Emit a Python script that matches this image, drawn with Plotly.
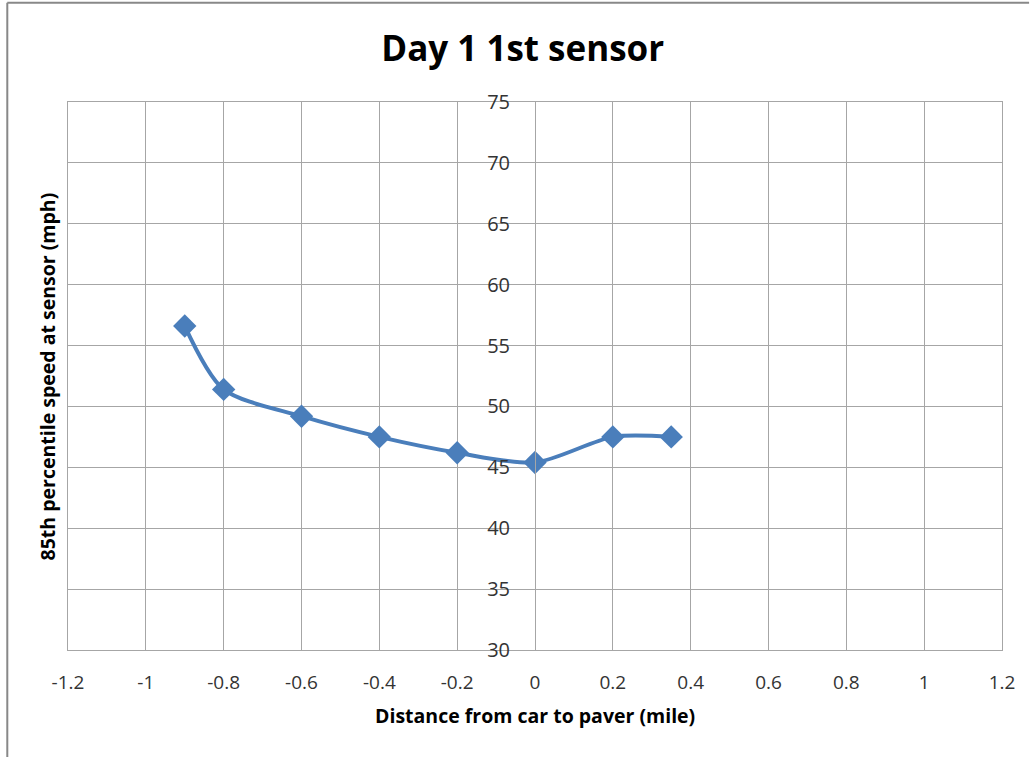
import plotly.graph_objects as go

distance = [-0.9, -0.8, -0.6, -0.4, -0.2, 0.0, 0.2, 0.35]
speed = [56.6, 51.4, 49.2, 47.5, 46.2, 45.4, 47.5, 47.5]

x_ticks = [-1.2, -1, -0.8, -0.6, -0.4, -0.2, 0, 0.2, 0.4, 0.6, 0.8, 1, 1.2]
x_labels = ["-1.2", "-1", "-0.8", "-0.6", "-0.4", "-0.2", "0", "0.2", "0.4", "0.6", "0.8", "1", "1.2"]
y_ticks = [30, 35, 40, 45, 50, 55, 60, 65, 70, 75]

FONT = "Open Sans"
GRID = "#a6a6a6"
BLUE = "#4a7ebb"

fig = go.Figure()
fig.add_trace(go.Scatter(
    x=distance, y=speed, mode="lines+markers",
    line=dict(color=BLUE, width=4, shape="spline", smoothing=0.8),
    marker=dict(symbol="diamond", size=18, color=BLUE),
    showlegend=False, hoverinfo="x+y",
))

fig.update_layout(
    width=1031, height=757,
    margin=dict(l=68, r=29, t=102, b=107),
    paper_bgcolor="white", plot_bgcolor="white",
    font=dict(family=FONT, color="#333333"),
    title=dict(text="<b>Day 1 1st sensor</b>", x=0.507, xanchor="center",
               y=0.935, yanchor="middle", font=dict(family=FONT, size=35, color="black")),
    xaxis=dict(
        range=[-1.2, 1.2], tickvals=x_ticks, ticktext=x_labels,
        showgrid=True, gridcolor=GRID, gridwidth=1,
        zeroline=False, showline=True, linecolor=GRID, linewidth=1, mirror=True,
        ticks="", tickfont=dict(size=19, color="#333333"), ticklabelstandoff=15,
    ),
    yaxis=dict(
        range=[30, 75], tickvals=y_ticks,
        showgrid=True, gridcolor=GRID, gridwidth=1,
        zeroline=False, showline=True, linecolor=GRID, linewidth=1, mirror=True,
        ticks="", showticklabels=False,
    ),
    yaxis2=dict(
        range=[30, 75], tickvals=y_ticks, overlaying="y", anchor="free", position=0.5,
        showgrid=False, zeroline=False, showline=True, linecolor=GRID, linewidth=1,
        ticks="", tickfont=dict(size=20, color="#333333"), ticklabelstandoff=21,
        side="left",
    ),
    annotations=[
        dict(text="<b>Distance from car to paver (mile)</b>", xref="paper", yref="paper",
             x=0.5, y=-0.12, xanchor="center", yanchor="middle", showarrow=False,
             font=dict(family=FONT, size=19.5, color="black")),
        dict(text="<b>85th percentile speed at sensor (mph)</b>", xref="paper", yref="paper",
             x=-0.022, y=0.5, xanchor="center", yanchor="middle", showarrow=False, textangle=-90,
             font=dict(family=FONT, size=19.5, color="black")),
    ],
    shapes=[
        dict(type="line", xref="paper", yref="paper", x0=-0.065, x1=1.029, y0=1.181, y1=1.181,
             line=dict(color="#888888", width=2)),
        dict(type="line", xref="paper", yref="paper", x0=-0.065, x1=-0.065, y0=1.181, y1=-0.2,
             line=dict(color="#888888", width=2)),
    ],
)
fig.add_trace(go.Scatter(x=[None], y=[None], yaxis="y2", showlegend=False))

fig.write_html("out.html", config={"displayModeBar": False},
               post_script="document.body.style.margin='0';")
